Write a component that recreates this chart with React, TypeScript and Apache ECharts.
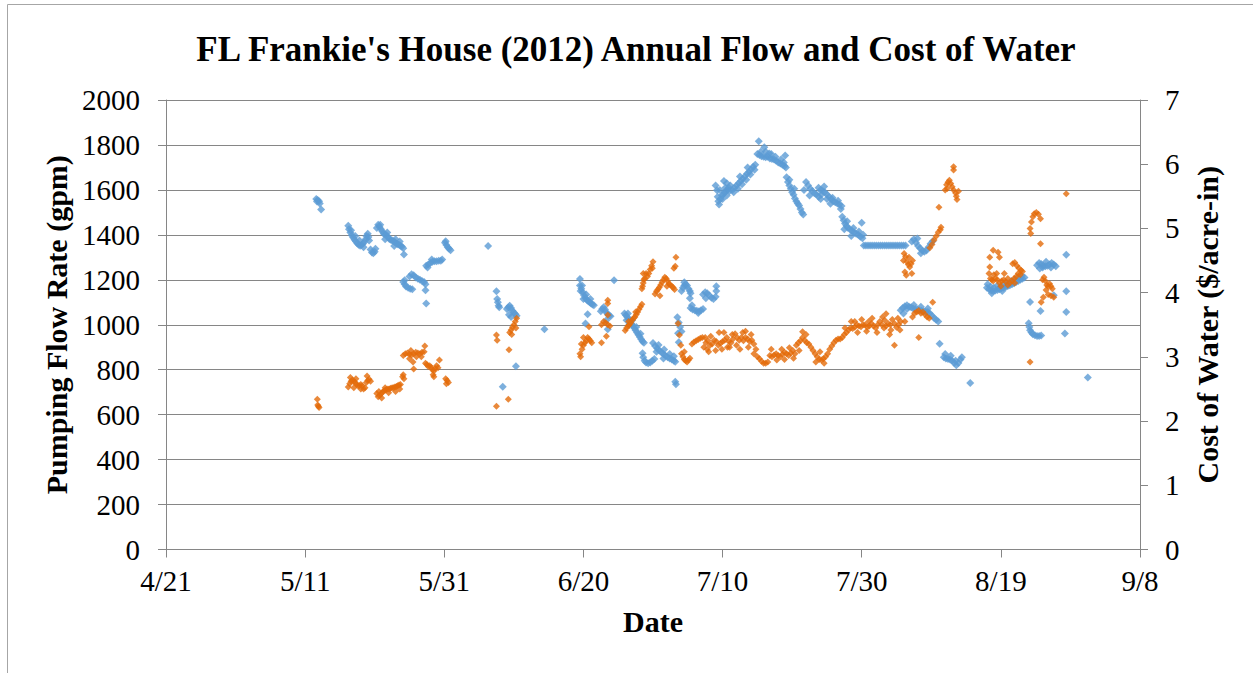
import React, { useEffect, useRef } from "react";
import * as echarts from "echarts";

// x values are days after 4/21/2012
const xTickLabels = ["4/21", "5/11", "5/31", "6/20", "7/10", "7/30", "8/19", "9/8"];
const flowTicks = [0, 200, 400, 600, 800, 1000, 1200, 1400, 1600, 1800, 2000];
const costTicks = [0, 1, 2, 3, 4, 5, 6, 7];

// Pumping flow rate (gpm): [day, gpm]
const flowData: [number, number][] = [
  [21.6,1560],[21.8,1555],[22.0,1550],[22.1,1540],[21.7,1548],[22.3,1513],
  [26.2,1440],[26.3,1425],[26.5,1410],[26.7,1398],[26.9,1388],[27.1,1378],[27.3,1370],[27.5,1362],[27.7,1356],[27.9,1352],[28.1,1355],[28.3,1360],[28.5,1368],[28.7,1380],[28.8,1395],[29.0,1405],[29.1,1390],[29.2,1375],
  [26.6,1420],[27.2,1395],[27.8,1375],[28.4,1345],
  [29.4,1335],[29.6,1322],[29.8,1318],[30.0,1325],[30.1,1338],
  [30.3,1430],[30.5,1445],[30.7,1435],[30.9,1425],[31.1,1415],[31.3,1405],[31.5,1400],[31.7,1398],[31.9,1390],[32.1,1382],[32.3,1378],[32.5,1375],[32.7,1372],[32.9,1368],[33.1,1362],[33.3,1358],[33.5,1356],[33.7,1352],[33.9,1348],[34.1,1340],[34.2,1313],[31.5,1380],[32.8,1350],
  [30.8,1445],[31.8,1410],[33.0,1380],[33.6,1370],
  [34.1,1190],[34.3,1180],[34.5,1170],[34.8,1165],[35.1,1160],[35.4,1158],[34.3,1198],
  [35.0,1215],[35.3,1225],[35.6,1220],[35.9,1210],[36.2,1205],[36.5,1200],[36.8,1195],[37.1,1190],[37.3,1180],[37.3,1153],[37.4,1095],
  [37.4,1262],[37.7,1268],[38.0,1275],[38.3,1280],[38.6,1282],[38.9,1283],[39.2,1285],[39.5,1285],[39.7,1290],[37.6,1255],[38.2,1290],
  [40.1,1365],[40.3,1355],[40.5,1345],[40.7,1338],[40.9,1332],[40.2,1372],
  [46.3,1350],
  [47.5,1149],[47.6,1115],[47.7,1100],[47.8,1085],[47.9,1078],
  [49.0,1070],[49.2,1078],[49.4,1085],[49.6,1075],[49.8,1062],[50.0,1055],[50.2,1048],[50.4,1040],[49.3,1045],[49.6,1035],[50.3,815],[48.4,724],
  [54.4,980],
  [59.5,1204],[59.5,1175],[59.7,1160],[59.9,1145],[60.1,1130],[60.3,1118],[60.5,1110],[60.7,1105],[60.9,1100],[61.1,1095],[61.3,1090],[61.5,1087],[59.6,1150],[60.0,1115],[60.6,1047],[60.3,1006],
  [59.8,1175],[60.4,1135],[61.0,1115],
  [64.4,1198],[62.5,1060],[62.7,1070],[62.9,1078],[63.1,1068],[63.3,1055],[63.5,1048],[63.7,1040],[63.9,1038],[63.5,980],[63.3,1020],
  [65.9,1050],[66.1,1042],[66.3,1035],[66.5,1025],[66.7,1018],[66.9,1005],[67.1,995],[67.3,985],[67.5,975],[67.7,965],[67.9,955],[68.1,945],[68.3,935],[68.5,925],[68.7,920],[66.2,1020],[66.6,1000],
  [66.4,1050],[67.0,1020],[67.6,990],[68.2,960],
  [68.5,873],[68.6,855],[68.8,840],[69.0,832],[69.3,829],[69.6,832],[69.9,840],[70.2,848],
  [70.0,919],[70.3,905],[70.6,895],[70.9,885],[71.2,878],[71.5,870],[71.8,862],[72.1,855],[72.4,850],[72.7,845],[73.0,840],[73.2,835],[70.5,880],[71.5,850],
  [70.8,910],[71.6,890],[72.4,870],[73.0,860],
  [73.2,746],[73.3,735],
  [73.5,1033],[73.7,1010],[73.9,990],[74.1,970],[73.6,962],[73.7,922],
  [74.1,1150],[74.3,1165],[74.5,1175],[74.7,1180],[74.9,1175],[75.1,1160],[75.3,1150],[75.4,1140],[74.5,1189],[75.3,1118],
  [75.4,1075],[75.7,1068],[76.0,1065],[76.3,1062],[76.6,1060],[76.9,1065],[77.2,1070],[75.6,1087],[76.5,1052],
  [77.2,1135],[77.5,1145],[77.8,1140],[78.1,1130],[78.4,1120],[78.7,1115],[79.0,1125],[79.1,1150],[79.1,1171],[77.6,1118],
  [79.0,1620],[79.2,1598],[79.3,1570],[79.4,1550],[79.5,1535],[79.7,1560],[79.9,1575],[80.1,1580],[80.3,1590],[80.5,1595],[80.7,1600],[80.9,1610],[81.1,1620],[80.2,1640],[80.6,1630],[80.0,1560],[80.6,1575],
  [79.6,1600],[80.4,1610],[81.0,1595],
  [81.4,1600],[81.7,1610],[82.0,1620],[82.3,1630],[82.6,1640],[82.9,1650],[83.2,1660],[83.5,1672],[83.8,1680],[84.1,1692],[84.4,1703],[84.7,1712],[82.5,1660],[83.6,1700],
  [81.6,1590],[82.2,1605],[82.8,1625],[83.4,1645],[84.0,1668],[84.6,1690],
  [85.2,1817],[86.0,1790],
  [85.0,1760],[85.3,1755],[85.6,1750],[85.9,1748],[86.2,1745],[86.5,1748],[86.8,1740],[87.1,1738],[87.4,1735],[87.7,1730],[88.0,1722],[88.3,1718],[88.6,1712],[88.9,1706],[89.1,1700],[89.0,1753],[87.0,1760],[86.2,1770],
  [85.5,1770],[86.7,1762],[87.6,1748],[88.4,1735],[88.8,1722],
  [89.2,1656],[89.4,1635],[89.6,1620],[89.8,1605],[90.0,1590],[90.2,1578],[90.4,1562],[90.6,1550],[90.8,1540],[91.0,1531],[91.2,1515],[91.4,1500],[91.6,1490],[89.6,1645],[90.3,1605],
  [91.7,1600],[92.0,1635],[92.3,1620],[92.6,1605],[92.9,1595],[93.2,1585],[93.5,1580],[93.8,1570],[94.1,1560],[92.5,1575],
  [93.8,1610],[94.1,1600],[94.4,1595],[94.7,1590],[95.0,1580],[95.3,1570],[95.6,1560],[95.9,1550],[96.2,1545],[96.5,1540],[96.8,1535],[97.1,1528],[94.6,1615],[95.5,1538],
  [94.2,1580],[95.0,1560],[95.8,1565],[96.6,1552],[97.0,1515],
  [97.2,1480],[97.4,1465],[97.6,1450],[97.8,1440],[98.0,1432],[98.3,1425],[98.6,1418],[98.9,1410],[99.2,1405],[99.5,1400],[99.8,1392],[100.1,1385],[97.5,1425],[98.5,1395],[100.0,1454],
  [97.9,1460],[98.8,1430],[99.6,1415],[100.2,1400],
  [100.3,1353],[100.6,1353],[100.9,1353],[101.2,1353],[101.5,1353],[101.8,1353],[102.1,1353],[102.4,1353],[102.7,1353],[103.0,1353],[103.3,1353],[103.6,1353],[103.9,1353],[104.2,1353],[104.5,1353],[104.8,1353],[105.1,1353],[105.4,1353],[105.7,1353],[106.0,1353],[106.3,1353],
  [107.2,1370],[107.5,1380],[107.8,1365],[108.1,1350],[108.4,1340],[108.7,1330],[109.0,1325],[109.3,1330],[109.6,1345],[109.9,1360],[110.2,1372],[108.0,1384],[108.5,1318],
  [105.6,1064],[105.9,1075],[106.2,1082],[106.5,1087],[106.8,1080],[107.1,1078],[107.4,1072],[107.7,1070],[108.0,1068],[108.3,1065],[108.6,1062],[108.9,1060],[109.2,1058],[109.5,1057],[109.8,1050],[110.1,1040],[110.4,1030],[110.7,1022],[111.0,1015],[106.0,1050],
  [106.5,1070],[107.5,1088],[108.5,1080],[109.5,1072],
  [111.2,916],
  [111.8,855],[112.1,850],[112.4,848],[112.7,845],[113.0,840],[113.3,830],[113.6,820],[113.9,830],[114.2,845],[114.4,855],
  [112.0,870],[112.8,862],[113.5,840],
  [115.6,741],
  [118.0,1165],[118.1,1180],[118.3,1158],[118.6,1152],[118.9,1150],[119.2,1152],[119.5,1155],[119.8,1158],[120.1,1162],[120.4,1165],[120.7,1168],[121.0,1172],[121.3,1176],[121.6,1180],[121.9,1185],[122.2,1190],[122.5,1195],[122.8,1200],[123.1,1205],[123.4,1210],[118.5,1170],[119.5,1175],[120.5,1180],[121.5,1195],[122.5,1212],
  [119.0,1165],[120.0,1170],[121.0,1185],[122.0,1200],[123.0,1218],[118.7,1140],[120.2,1150],
  [125.2,1265],[125.5,1275],[125.8,1270],[126.1,1262],[126.4,1260],[126.7,1262],[127.0,1268],[127.3,1275],[127.6,1268],[127.9,1260],[126.0,1255],
  [125.6,1250],[126.5,1280],[127.2,1255],
  [124.2,1101],[125.7,1061],[127.6,1131],
  [124.0,1007],[124.1,990],[124.2,975],[124.4,965],[124.6,958],[124.9,953],[125.2,950],[125.5,950],[125.8,952],
  [129.4,1312],[129.4,1149],[129.4,1057],[129.2,961],[132.5,765],
];

// Cost of water ($/acre-in): [day, $]
const costData: [number, number][] = [
  [21.75,2.34],[21.9,2.23],[22.0,2.21],[21.8,2.25],
  [26.2,2.53],[26.4,2.58],[26.6,2.62],[26.8,2.64],[27.0,2.62],[27.2,2.6],[27.4,2.57],[27.6,2.55],[27.8,2.55],[28.0,2.57],[28.2,2.55],[28.4,2.5],[28.6,2.52],[28.8,2.6],[29.0,2.63],[29.2,2.65],[29.4,2.62],[27.0,2.52],
  [26.5,2.68],[27.3,2.66],[28.0,2.5],[28.9,2.7],
  [30.3,2.43],[30.5,2.38],[30.7,2.4],[30.9,2.42],[31.1,2.45],[31.3,2.47],[31.5,2.48],[31.7,2.49],[31.9,2.5],[32.1,2.5],[32.3,2.51],[32.5,2.52],[32.7,2.52],[32.9,2.53],[33.1,2.54],[33.3,2.55],[33.5,2.56],[33.7,2.57],[30.6,2.46],[31.5,2.52],
  [31.0,2.36],[32.0,2.44],[33.0,2.46],[33.6,2.5],
  [34.0,2.69],[34.1,2.72],[34.2,2.66],
  [34.1,3.02],[34.4,3.05],[34.7,3.06],[35.0,3.04],[35.3,3.03],[35.6,3.05],[35.9,3.07],[36.2,3.06],[36.5,3.05],[36.8,3.07],[37.1,3.08],[37.2,3.17],[35.5,2.92],[35.6,2.81],[35.0,2.97],
  [35.2,3.1],[36.0,3.0],[36.7,3.0],
  [37.3,2.9],[37.5,2.88],[37.7,2.85],[37.9,2.86],[38.1,2.84],[38.3,2.8],[38.5,2.78],[38.7,2.82],[38.9,2.86],[39.1,2.83],[38.4,2.72],[38.5,2.69],[39.3,2.95],
  [40.2,2.66],[40.4,2.63],[40.6,2.6],[40.3,2.58],
  [47.5,3.34],[47.6,3.26],[47.5,2.23],[49.2,2.34],[49.3,3.11],
  [49.4,3.38],[49.6,3.42],[49.8,3.46],[50.0,3.5],[50.2,3.55],[50.4,3.6],[50.3,3.45],[49.7,3.35],
  [59.5,3.05],[59.6,3.0],[59.8,3.12],[60.0,3.18],[60.2,3.22],[60.4,3.25],[60.6,3.3],[60.8,3.28],[61.0,3.25],[61.2,3.22],[60.8,3.47],[60.0,3.3],[59.7,3.2],
  [62.6,3.22],[63.5,3.88],[63.5,3.83],[63.5,3.65],[62.6,3.5],[62.9,3.55],[63.2,3.53],[63.5,3.5],[63.8,3.48],[63.3,3.32],
  [66.0,3.41],[66.2,3.45],[66.4,3.48],[66.6,3.5],[66.8,3.53],[67.0,3.57],[67.2,3.6],[67.4,3.62],[67.6,3.66],[67.8,3.7],[68.0,3.74],[68.2,3.78],[68.4,3.82],[66.5,3.55],[67.5,3.7],
  [68.4,4.06],[68.5,4.1],[68.6,4.15],[68.7,4.2],[68.8,4.22],[69.0,4.3],[69.2,4.25],[69.4,4.3],[69.6,4.36],[69.8,4.42],[70.0,4.48],[69.9,4.38],[68.6,4.3],
  [70.3,3.98],[70.5,4.02],[70.7,4.05],[70.9,4.08],[71.1,4.12],[71.3,4.16],[71.5,4.2],[71.7,4.24],[71.9,4.22],[72.1,4.18],[72.3,4.14],[72.5,4.12],[72.7,4.1],[72.9,4.08],[73.1,4.05],[71.0,3.95],[72.0,4.1],
  [73.3,4.55],[73.2,4.41],[73.0,4.38],
  [73.6,3.52],[73.8,3.34],[74.0,3.18],
  [74.1,3.05],[74.3,3.0],[74.5,2.96],[74.7,2.94],[74.9,2.92],[75.1,2.95],[75.3,2.98],[74.5,3.08],
  [75.6,3.2],[75.9,3.23],[76.2,3.25],[76.5,3.27],[76.8,3.29],[77.1,3.3],
  [77.3,3.15],[77.6,3.22],[77.9,3.25],[78.2,3.18],[78.5,3.2],[78.8,3.26],[79.1,3.24],[79.4,3.18],[79.7,3.21],[80.0,3.24],[80.3,3.26],[80.6,3.3],[80.9,3.24],[81.2,3.22],[81.5,3.28],[81.8,3.36],[82.1,3.3],[82.4,3.26],[82.7,3.3],[83.0,3.25],[83.3,3.3],[83.6,3.28],[83.9,3.24],[84.2,3.26],[84.5,3.2],[84.8,3.12],[78.0,3.08],[79.5,3.38],[81.0,3.15],[83.3,3.4],[84.5,3.05],
  [77.5,3.3],[78.3,3.32],[79.0,3.1],[79.9,3.12],[80.7,3.15],[81.4,3.35],[82.0,3.18],[82.9,3.38],[83.7,3.15],[84.1,3.35],[77.8,3.12],[80.2,3.38],[82.5,3.12],
  [85.0,3.0],[85.3,2.97],[85.6,2.93],[85.9,2.9],[86.2,2.9],[86.5,2.92],
  [86.8,3.02],[87.1,3.0],[87.4,3.03],[87.7,3.05],[88.0,3.02],[88.3,3.0],[88.6,3.04],[88.9,3.07],[89.2,3.05],[89.5,3.02],[89.8,3.06],[90.1,3.1],[90.4,3.05],[88.5,3.12],
  [87.0,3.12],[87.8,2.95],[88.9,2.96],[89.6,3.14],[90.2,2.98],
  [90.6,3.18],[90.9,3.22],[91.2,3.25],[91.5,3.3],[91.8,3.26],[92.1,3.22],[92.4,3.2],[92.7,3.15],[91.5,3.39],
  [93.0,3.1],[93.3,3.05],[93.6,3.0],[93.9,2.96],[94.2,2.95],[94.5,2.97],[94.8,3.0],[95.1,3.05],
  [91.0,3.1],[92.0,3.35],[93.4,2.92],[94.0,3.08],[94.6,2.9],
  [95.4,3.12],[95.7,3.17],[96.0,3.22],[96.3,3.26],[96.6,3.28],[96.9,3.28],
  [97.2,3.3],[97.5,3.35],[97.8,3.38],[98.1,3.42],[98.4,3.45],[98.7,3.44],[99.0,3.46],[99.3,3.5],[99.6,3.48],[99.9,3.47],[100.2,3.5],[100.5,3.5],[100.8,3.46],[101.1,3.48],[101.4,3.52],[101.7,3.48],[102.0,3.45],[102.3,3.5],[102.6,3.55],[102.9,3.5],[103.2,3.45],[103.5,3.48],[103.8,3.52],[104.1,3.5],[104.4,3.58],[104.7,3.52],[105.0,3.46],[105.3,3.5],[105.6,3.55],[103.0,3.62],[104.0,3.35],[104.7,3.18],[103.5,3.67],
  [97.6,3.45],[98.5,3.55],[99.4,3.38],[100.0,3.58],[100.7,3.4],[101.5,3.6],[102.2,3.38],[103.3,3.57],[104.2,3.42],[105.2,3.6],[105.5,3.42],[101.0,3.55],[99.0,3.55],
  [107.3,3.62],[107.6,3.68],[107.9,3.7],[108.2,3.72],[108.5,3.68],[108.8,3.7],[109.1,3.66],[109.4,3.62],[109.7,3.6],[110.2,3.85],[106.2,3.55],[108.2,3.3],
  [106.0,4.5],[106.1,4.61],[106.3,4.56],[106.5,4.48],[106.7,4.44],[106.9,4.4],[107.1,4.45],[107.3,4.5],[106.2,4.32],[106.4,4.27],[107.2,4.3],[106.8,4.55],
  [109.8,4.7],[110.1,4.75],[110.4,4.82],[110.7,4.88],[111.0,4.94],[111.3,4.98],[111.4,5.02],
  [111.1,5.33],[112.0,5.6],[112.2,5.68],[112.4,5.72],[112.6,5.75],[112.8,5.7],[113.0,5.65],[113.2,5.6],[113.2,5.96],[113.2,5.91],[113.5,5.55],[113.6,5.5],[113.7,5.45],[113.9,5.58],[112.3,5.62],
  [118.3,4.3],[118.5,4.22],[118.7,4.2],[118.9,4.18],[119.2,4.22],[119.5,4.2],[119.8,4.15],[120.1,4.18],[120.4,4.2],[120.7,4.17],[121.0,4.12],[121.3,4.15],[121.6,4.18],[121.9,4.22],[122.2,4.25],[122.5,4.3],[122.8,4.28],[120.5,4.3],[118.4,4.4],[118.4,4.55],[118.9,4.66],[119.6,4.63],[119.8,4.55],
  [119.0,4.28],[120.0,4.1],[121.0,4.22],[122.0,4.15],[119.4,4.3],
  [121.7,4.45],[122.0,4.47],[122.3,4.42],[122.6,4.38],[122.9,4.35],[123.1,4.33],
  [124.2,2.92],[124.2,5.0],[124.3,4.92],[124.4,5.1],[124.6,5.18],[124.8,5.23],[125.1,5.25],[125.4,5.22],[125.7,5.15],[125.7,4.76],
  [126.0,4.2],[126.2,4.24],[126.4,4.18],[126.6,4.12],[126.8,4.1],[127.0,4.14],[127.2,4.1],[127.4,4.06],[126.5,4.04],
  [126.8,3.97],[127.2,3.95],[127.6,3.93],[126.1,3.93],[125.8,3.85],[129.4,5.54],
];

const FONT = "Liberation Serif";
const GRAY = "#868686";

export default function App() {
  const ref = useRef<HTMLDivElement>(null);
  useEffect(() => {
    if (!ref.current) return;
    const chart = echarts.init(ref.current, undefined, { renderer: "svg" });
    chart.setOption({
      animation: false,
      backgroundColor: "#ffffff",
      textStyle: { fontFamily: FONT },
      title: {
        text: "FL Frankie's House (2012) Annual Flow and Cost of Water",
        left: 631,
        top: 27,
        textAlign: "center",
        textStyle: { fontFamily: FONT, fontSize: 35, fontWeight: "bold", color: "#000" },
      },
      graphic: [
        {
          type: "rect",
          shape: { x: 7.5, y: 4.5, width: 1300, height: 720 },
          style: { fill: "none", stroke: "#a6a6a6", lineWidth: 1 },
          silent: true,
          z: -1,
        },
      ],
      grid: { left: 166, right: 113, top: 100, bottom: 123.5, containLabel: false },
      xAxis: {
        type: "value",
        min: 0,
        max: 140,
        interval: 20,
        name: "Date",
        nameLocation: "middle",
        nameGap: 57,
        nameTextStyle: { fontFamily: FONT, fontSize: 30, fontWeight: "bold", color: "#000" },
        axisLine: { show: true, lineStyle: { color: GRAY, width: 1 } },
        axisTick: { show: true, inside: false, length: 8, lineStyle: { color: GRAY } },
        splitLine: { show: false },
        axisLabel: {
          fontFamily: FONT,
          fontSize: 29,
          color: "#000",
          margin: 17,
          formatter: (v: number) => xTickLabels[Math.round(v / 20)] ?? "",
        },
      },
      yAxis: [
        {
          type: "value",
          min: 0,
          max: 2000,
          interval: 200,
          position: "left",
          name: "Pumping Flow Rate (gpm)",
          nameLocation: "middle",
          nameGap: 91,
          nameRotate: 90,
          nameTextStyle: { fontFamily: FONT, fontSize: 30, fontWeight: "bold", color: "#000" },
          axisLine: { show: true, lineStyle: { color: GRAY, width: 1 } },
          axisTick: { show: true, inside: false, length: 8, lineStyle: { color: GRAY } },
          splitLine: { show: true, lineStyle: { color: GRAY, width: 1 } },
          axisLabel: {
            fontFamily: FONT,
            fontSize: 29,
            color: "#000",
            margin: 26,
            formatter: (v: number) => (flowTicks.includes(v) ? String(v) : ""),
          },
        },
        {
          type: "value",
          min: 0,
          max: 7,
          interval: 1,
          position: "right",
          name: "Cost of Water ($/acre-in)",
          nameLocation: "middle",
          nameGap: 52,
          nameRotate: 90,
          nameTextStyle: { fontFamily: FONT, fontSize: 30, fontWeight: "bold", color: "#000" },
          axisLine: { show: true, lineStyle: { color: GRAY, width: 1 } },
          axisTick: { show: true, inside: false, length: 8, lineStyle: { color: GRAY } },
          splitLine: { show: false },
          axisLabel: {
            fontFamily: FONT,
            fontSize: 29,
            color: "#000",
            margin: 25,
            formatter: (v: number) => (costTicks.includes(v) ? String(v) : ""),
          },
        },
      ],
      series: [
        {
          name: "Pumping Flow Rate (gpm)",
          type: "scatter",
          yAxisIndex: 0,
          data: flowData,
          symbol: "diamond",
          symbolSize: 8,
          itemStyle: { color: "#5B9BD5" },
        },
        {
          name: "Cost of Water ($/acre-in)",
          type: "scatter",
          yAxisIndex: 1,
          data: costData,
          symbol: "diamond",
          symbolSize: 7,
          itemStyle: { color: "#E46C0A" },
        },
      ],
    });
    return () => chart.dispose();
  }, []);
  return (
    <div
      ref={ref}
      style={{ position: "fixed", left: 0, top: 0, width: 1253, height: 673, background: "#fff" }}
    />
  );
}
